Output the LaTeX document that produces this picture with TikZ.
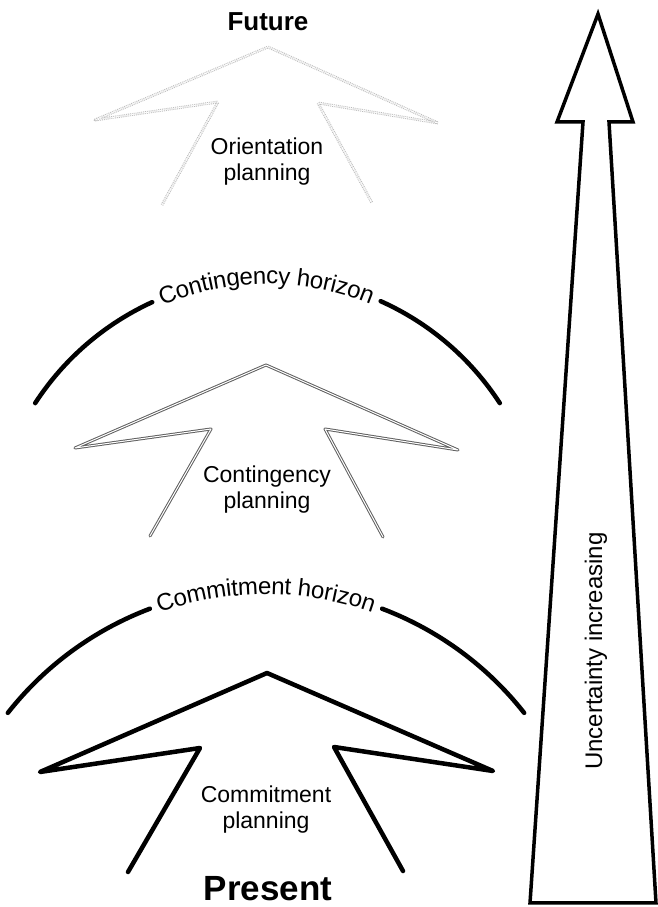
\documentclass[tikz,border=0pt]{standalone}
\usepackage{fontspec}
\setmainfont{Liberation Sans}
\usetikzlibrary{decorations.text}
\tikzset{
  heavyline/.style={line width=4.5pt, line cap=round, line join=round},
  commitline/.style={line width=4.5pt, line cap=round, line join=round},
  contline/.style={draw=gray!75!black, line width=1pt, double=white, double distance=1pt, line join=round, line cap=round},
  orientline/.style={draw=gray!55, line width=0.9pt, densely dotted, double=white, double distance=1pt, line join=round},
  uncline/.style={line width=3.5pt, line join=miter},
  lbl/.style={align=center, font=\fontsize{23}{26}\selectfont, inner sep=0pt},
}
\begin{document}
\begin{tikzpicture}[x=1pt,y=1pt]
\useasboundingbox (0,0) rectangle (658,907);
\fill[white] (0,0) rectangle (658,907);

% ---------- Orientation arrow (top, faint) ----------
\coordinate (oLt) at (162,702);
\coordinate (oLn) at (218,805);
\coordinate (oLp) at (95,787);
\coordinate (oA)  at (268,860);
\coordinate (oRp) at (438,784);
\coordinate (oRn) at (318,804);
\coordinate (oRt) at (372,704);
\draw[orientline] (oLt) -- (oLn) -- (oLp) -- (oA) -- (oRp) -- (oRn) -- (oRt);
\node[lbl] (orient) at (267,745) {Orientation\\planning};

% ---------- Contingency horizon ----------
\coordinate (cc) at (267.5,353);
\draw[heavyline] ([shift={(147:277)}]cc) arc[start angle=147, end angle=114.6, radius=277];
\draw[heavyline] ([shift={(65.9:277)}]cc) arc[start angle=65.9, end angle=33, radius=277];
\path[decorate, decoration={text along path, text align=center, raise=-7pt,
  text={|\fontsize{24}{24}\selectfont|Contingency horizon}}]
  ([shift={(113.5:277)}]cc) arc[start angle=113.5, end angle=67, radius=277];

% ---------- Contingency arrow ----------
\coordinate (cLt) at (150,371);
\coordinate (cLn) at (211,478);
\coordinate (cLp) at (75,459);
\coordinate (cA)  at (266,542);
\coordinate (cRp) at (458,457);
\coordinate (cRn) at (325,478);
\coordinate (cRt) at (383,370);
\draw[contline] (cLt) -- (cLn) -- (cLp) -- (cA) -- (cRp) -- (cRn) -- (cRt);
\node[lbl] (cont) at (267,417) {Contingency\\planning};

% ---------- Commitment horizon ----------
\coordinate (mc) at (266,-9);
\draw[heavyline] ([shift={(141.8:328.5)}]mc) arc[start angle=141.8, end angle=110.7, radius=328.5];
\draw[heavyline] ([shift={(69.3:328.5)}]mc) arc[start angle=69.3, end angle=38.2, radius=328.5];
\path[decorate, decoration={text along path, text align=center, raise=-7pt,
  text={|\fontsize{24}{24}\selectfont|Commitment horizon}}]
  ([shift={(110:328.5)}]mc) arc[start angle=110, end angle=70, radius=328.5];

% ---------- Commitment arrow ----------
\coordinate (mLt) at (128,35);
\coordinate (mLn) at (200,159);
\coordinate (mLp) at (40,135);
\coordinate (mA)  at (267,234);
\coordinate (mRp) at (493,136);
\coordinate (mRn) at (334,160);
\coordinate (mRt) at (403,36);
\draw[commitline] (mLt) -- (mLn) -- (mLp) -- (mA) -- (mRp) -- (mRn) -- (mRt);
\node[lbl] (commit) at (266,97) {Commitment\\planning};

% ---------- Future / Present ----------
\node[anchor=base, inner sep=0pt, font=\fontsize{26}{26}\selectfont\bfseries] (future) at (268,876) {Future};
\node[anchor=base, inner sep=0pt, font=\fontsize{35}{35}\selectfont\bfseries] (present) at (268,6) {Present};

% ---------- Uncertainty arrow ----------
\coordinate (uT)  at (598,893);
\coordinate (uHL) at (557,785);
\coordinate (uHR) at (633,785);
\coordinate (uSL) at (583,785);
\coordinate (uSR) at (609,785);
\coordinate (uBL) at (530,4);
\coordinate (uBR) at (656,4);
\draw[uncline] (uT) -- (uHR) -- (uSR) -- (uBR) -- (uBL) -- (uSL) -- (uHL) -- cycle;
\node[rotate=90, inner sep=0pt, font=\fontsize{24}{24}\selectfont] (unc) at (596,256) {Uncertainty increasing};
\end{tikzpicture}
\end{document}
